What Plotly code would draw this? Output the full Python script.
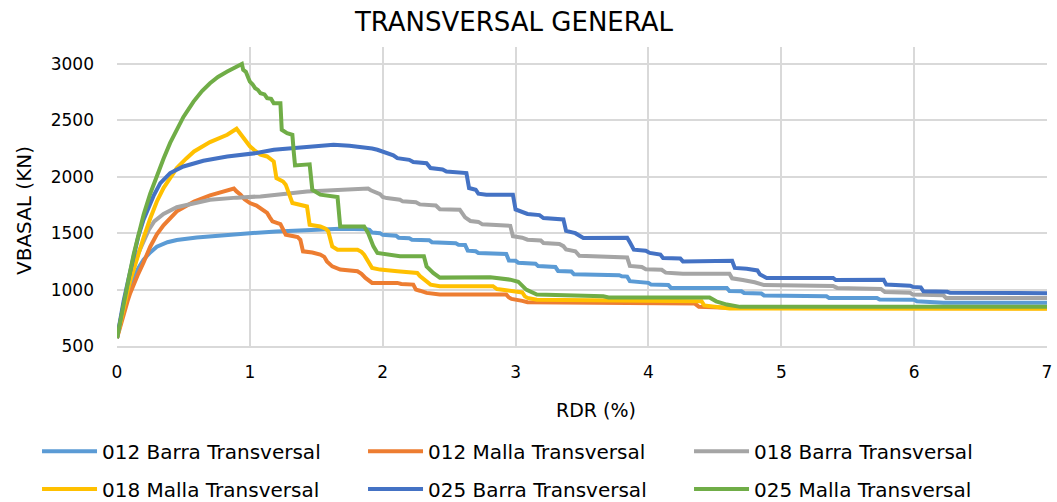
import plotly.graph_objects as go

# ---- data ----
x_012_barra = [0, 0.02, 0.05, 0.08, 0.1, 0.13, 0.16, 0.2, 0.25, 0.3, 0.38, 0.45, 0.6, 0.8, 1.0, 1.2, 1.43, 1.68, 1.88,
               1.9, 1.92, 1.98, 2.0, 2.1, 2.12, 2.2, 2.22, 2.35, 2.37, 2.55, 2.57, 2.62, 2.64, 2.7, 2.72, 2.93, 2.95,
               3.0, 3.02, 3.15, 3.17, 3.3, 3.32, 3.42, 3.44, 3.78, 3.8, 3.84, 3.86, 4.0, 4.02, 4.15, 4.17, 4.59, 4.61,
               4.7, 4.72, 4.85, 4.87, 5.34, 5.36, 5.72, 5.74, 6.0, 6.02, 6.2, 6.22, 7.0]
y_012_barra = [570, 680, 830, 950, 1020, 1110, 1190, 1265, 1330, 1380, 1420, 1440, 1462, 1485, 1500, 1515, 1530, 1540,
               1535, 1530, 1505, 1500, 1485, 1478, 1460, 1455, 1442, 1438, 1420, 1410, 1398, 1395, 1345, 1340, 1325,
               1315, 1258, 1255, 1238, 1230, 1208, 1200, 1165, 1160, 1135, 1128, 1118, 1115, 1075, 1060, 1044, 1040,
               1015, 1015, 988, 985, 970, 965, 948, 941, 926, 926, 912, 910, 896, 893, 884, 884]

x_012_malla = [0, 0.02, 0.05, 0.08, 0.1, 0.13, 0.16, 0.2, 0.25, 0.3, 0.35, 0.45, 0.58, 0.7, 0.8, 0.88, 0.9, 0.93,
               0.96, 0.98, 1.0, 1.05, 1.08, 1.11, 1.13, 1.15, 1.17, 1.23, 1.25, 1.27, 1.33, 1.36, 1.38, 1.40, 1.47,
               1.53, 1.56, 1.58, 1.62, 1.68, 1.81, 1.84, 1.87, 1.9, 1.92, 2.11, 2.14, 2.23, 2.25, 2.28, 2.33, 2.43,
               2.93, 2.95, 2.97, 3.05, 3.09, 4.35, 4.38, 4.6, 7.0]
y_012_malla = [570, 660, 790, 900, 970, 1060, 1140, 1240, 1380, 1490, 1570, 1693, 1781, 1835, 1870, 1895, 1870, 1841,
               1800, 1785, 1767, 1745, 1723, 1700, 1679, 1640, 1604, 1580, 1530, 1487, 1472, 1465, 1442, 1339, 1328,
               1310, 1290, 1250, 1206, 1177, 1162, 1140, 1103, 1080, 1059, 1059, 1050, 1044, 1000, 990, 971, 956,
               956, 930, 917, 900, 888, 876, 847, 838, 835]

x_018_barra = [0, 0.02, 0.05, 0.08, 0.1, 0.13, 0.16, 0.2, 0.24, 0.28, 0.35, 0.45, 0.55, 0.7, 0.9, 1.08, 1.43, 1.7,
               1.89, 1.91, 1.95, 1.98, 2.0, 2.03, 2.13, 2.15, 2.25, 2.28, 2.4, 2.43, 2.58, 2.62, 2.66, 2.72, 2.75,
               2.96, 2.98, 3.05, 3.09, 3.19, 3.21, 3.33, 3.36, 3.38, 3.45, 3.48, 3.84, 3.86, 3.95, 3.98, 4.1, 4.13,
               4.2, 4.26, 4.61, 4.63, 4.71, 4.8, 4.87, 5.39, 5.42, 5.75, 5.78, 5.97, 5.99, 6.22, 6.24, 7.0]
y_018_barra = [570, 700, 870, 1010, 1100, 1210, 1320, 1430, 1530, 1604, 1670, 1730, 1760, 1796, 1815, 1826, 1870, 1885,
               1895, 1880, 1860, 1845, 1820, 1811, 1796, 1782, 1775, 1755, 1745, 1712, 1708, 1640, 1608, 1600, 1578,
               1565, 1472, 1460, 1442, 1435, 1413, 1405, 1385, 1355, 1340, 1300, 1285, 1210, 1200, 1180, 1175, 1150,
               1145, 1141, 1141, 1100, 1085, 1065, 1040, 1032, 1015, 1006, 978, 972, 956, 950, 926, 926]

x_018_malla = [0, 0.02, 0.05, 0.08, 0.1, 0.13, 0.16, 0.2, 0.25, 0.3, 0.35, 0.4, 0.45, 0.52, 0.58, 0.7, 0.83, 0.90,
               0.92, 0.95, 0.98, 1.0, 1.03, 1.06, 1.08, 1.13, 1.16, 1.18, 1.20, 1.25, 1.27, 1.29, 1.31, 1.32, 1.43,
               1.45, 1.53, 1.57, 1.59, 1.62, 1.66, 1.81, 1.84, 1.86, 1.92, 1.98, 2.11, 2.26, 2.28, 2.30, 2.34, 2.36,
               2.43, 2.83, 2.86, 2.96, 3.05, 3.07, 3.09, 3.16, 4.01, 4.40, 4.42, 4.5, 4.61, 7.0]
y_018_malla = [570, 680, 850, 990, 1080, 1200, 1320, 1460, 1630, 1781, 1900, 1990, 2077, 2160, 2224, 2307, 2372, 2425,
               2395, 2350, 2298, 2270, 2239, 2215, 2195, 2180, 2150, 2135, 1988, 1958, 1930, 1870, 1800, 1767, 1737,
               1575, 1560, 1540, 1516, 1383, 1354, 1354, 1335, 1310, 1192, 1177, 1162, 1148, 1120, 1103, 1060, 1044,
               1030, 1030, 1005, 985, 975, 940, 926, 911, 896, 896, 860, 850, 832, 830]

x_025_barra = [0, 0.02, 0.05, 0.08, 0.1, 0.13, 0.16, 0.2, 0.24, 0.275, 0.326, 0.4, 0.5, 0.65, 0.83, 1.05, 1.18, 1.43,
               1.63, 1.75, 1.88, 1.92, 1.96, 2.0, 2.03, 2.08, 2.11, 2.2, 2.23, 2.33, 2.36, 2.45, 2.48, 2.63, 2.65,
               2.70, 2.72, 2.78, 2.98, 3.0, 3.09, 3.18, 3.21, 3.36, 3.38, 3.45, 3.51, 3.84, 3.86, 3.89, 3.98, 4.01,
               4.09, 4.11, 4.24, 4.26, 4.63, 4.65, 4.74, 4.77, 4.82, 4.84, 4.87, 4.89, 5.39, 5.41, 5.77, 5.79, 5.97,
               5.99, 6.05, 6.07, 6.25, 6.27, 7.0]
y_025_barra = [570, 720, 900, 1060, 1160, 1330, 1470, 1620, 1740, 1830, 1944, 2033, 2091, 2142, 2180, 2210, 2239, 2268,
               2283, 2275, 2259, 2250, 2239, 2220, 2210, 2190, 2165, 2150, 2130, 2120, 2077, 2065, 2047, 2033, 1900,
               1885, 1850, 1841, 1841, 1710, 1670, 1660, 1634, 1622, 1520, 1500, 1457, 1460, 1420, 1354, 1345, 1325,
               1310, 1280, 1275, 1250, 1255, 1192, 1185, 1177, 1170, 1133, 1120, 1103, 1103, 1085, 1088, 1044, 1035,
               1024, 1020, 985, 980, 971, 968]

x_025_malla = [0, 0.02, 0.04, 0.062, 0.09, 0.125, 0.16, 0.2, 0.25, 0.3, 0.35, 0.4, 0.45, 0.5, 0.576, 0.64, 0.70, 0.76,
               0.83, 0.94, 0.95, 0.97, 0.99, 1.0, 1.02, 1.04, 1.06, 1.08, 1.11, 1.13, 1.16, 1.18, 1.23, 1.24, 1.28,
               1.32, 1.33, 1.34, 1.45, 1.47, 1.53, 1.6, 1.66, 1.68, 1.86, 1.89, 1.93, 1.96, 2.08, 2.13, 2.31, 2.33,
               2.38, 2.43, 2.81, 2.9, 2.96, 3.02, 3.06, 3.08, 3.16, 3.66, 3.70, 4.46, 4.51, 4.59, 4.69, 7.0]
y_025_malla = [570, 700, 830, 956, 1110, 1310, 1490, 1664, 1850, 2010, 2160, 2300, 2420, 2530, 2666, 2760, 2829, 2885,
               2932, 3000, 2947, 2930, 2870, 2843, 2820, 2785, 2770, 2740, 2730, 2696, 2690, 2652, 2652, 2416, 2387,
               2372, 2224, 2100, 2110, 1885, 1841, 1826, 1820, 1560, 1560, 1502, 1383, 1325, 1310, 1295, 1295, 1206,
               1148, 1106, 1110, 1100, 1088, 1070, 1020, 1000, 956, 941, 930, 930, 896, 867, 847, 847]

series_names = ["012 Barra Transversal", "012 Malla Transversal", "018 Barra Transversal",
                "018 Malla Transversal", "025 Barra Transversal", "025 Malla Transversal"]
series_x = [x_012_barra, x_012_malla, x_018_barra, x_018_malla, x_025_barra, x_025_malla]
series_y = [y_012_barra, y_012_malla, y_018_barra, y_018_malla, y_025_barra, y_025_malla]
colors = ["#5B9BD5", "#ED7D31", "#A5A5A5", "#FFC000", "#4472C4", "#70AD47"]
legend_ids = ["legend", "legend", "legend", "legend2", "legend2", "legend2"]

x_ticks = [0, 1, 2, 3, 4, 5, 6, 7]
y_ticks = [500, 1000, 1500, 2000, 2500, 3000]

FONT = "DejaVu Sans"

fig = go.Figure()
for name, xs, ys, c, lg in zip(series_names, series_x, series_y, colors, legend_ids):
    fig.add_trace(go.Scatter(x=xs, y=ys, mode="lines", name=name, legend=lg,
                             line=dict(color=c, width=4)))

legend_common = dict(orientation="h", xref="paper", x=-0.086, xanchor="left",
                     yref="paper", yanchor="top",
                     font=dict(family=FONT, size=20, color="#000000"),
                     itemwidth=55, entrywidth=256, entrywidthmode="pixels",
                     bgcolor="rgba(0,0,0,0)")

fig.update_layout(
    width=1057, height=502,
    margin=dict(l=117, r=10, t=47, b=156, autoexpand=False),
    paper_bgcolor="white", plot_bgcolor="white",
    font=dict(family=FONT, color="#1a1a1a"),
    title=dict(text="TRANSVERSAL GENERAL", x=514 / 1057, xanchor="center", xref="container",
               y=1 - 22 / 502, yanchor="middle", yref="container",
               font=dict(family=FONT, size=26, color="#000000")),
    legend=dict(y=-0.2866, **legend_common),
    legend2=dict(y=-0.4130, **legend_common),
    showlegend=True,
    annotations=[
        dict(text="VBASAL (KN)", textangle=-90, xref="paper", yref="paper",
             x=-0.100, y=0.4515, xanchor="center", yanchor="middle", showarrow=False,
             font=dict(family=FONT, size=20, color="#000000")),
        dict(text="RDR (%)", xref="paper", yref="paper",
             x=0.515, y=-0.214, xanchor="center", yanchor="middle", showarrow=False,
             font=dict(family=FONT, size=19, color="#000000")),
    ],
)
fig.update_xaxes(range=[0, 7], tickvals=x_ticks, ticktext=[str(v) for v in x_ticks],
                 showgrid=True, gridcolor="#d9d9d9", gridwidth=1.5, automargin=False,
                 showline=True, linecolor="#d9d9d9", linewidth=1.5, zeroline=False,
                 ticks="", ticklabelstandoff=10, tickfont=dict(family=FONT, size=17, color="#000000"))
fig.update_yaxes(range=[500, 3150], tickvals=y_ticks, ticktext=[str(v) for v in y_ticks],
                 showgrid=True, gridcolor="#d9d9d9", gridwidth=1.5, automargin=False,
                 showline=False, zeroline=False,
                 ticks="", ticklabelstandoff=22, tickfont=dict(family=FONT, size=17, color="#000000"))

fig.write_html("out.html", config={"displayModeBar": False},
               post_script="document.body.style.margin='0';")
